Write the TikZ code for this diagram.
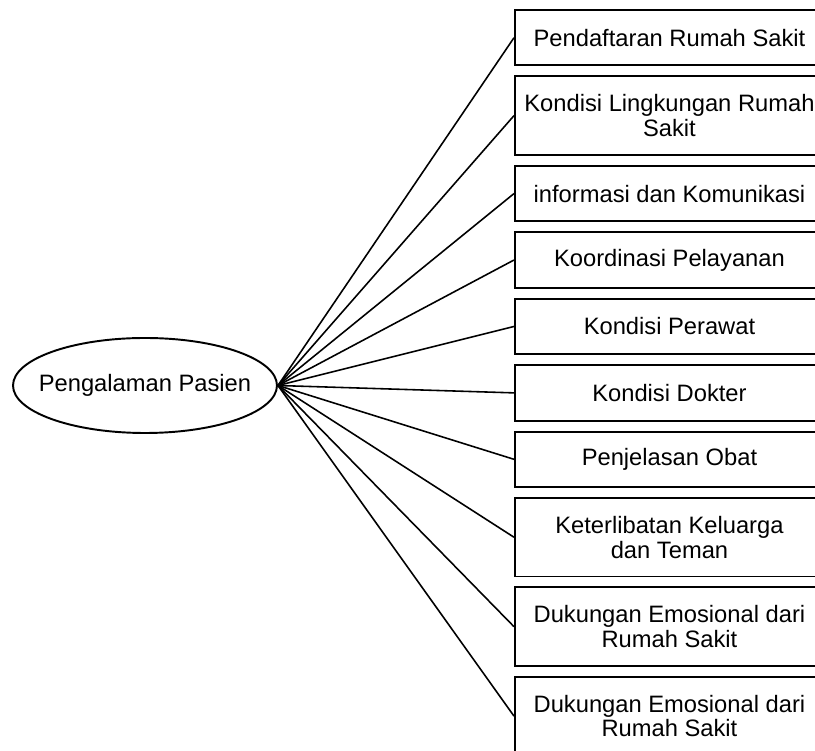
\documentclass[tikz,border=0pt]{standalone}
\usepackage{fontspec}
\setmainfont{Liberation Sans}
\usepackage{tikz}
\usetikzlibrary{shapes.geometric, positioning}

\tikzset{
  itembox/.style={draw, line width=1.1pt, rectangle, align=center, minimum width=6.18cm, minimum height=1.11cm, inner sep=2pt},
  itemboxtall/.style={itembox, minimum height=1.57cm},
  link/.style={line width=0.9pt}
}

\begin{document}
\begin{tikzpicture}[node distance=0.18cm, font=\fontsize{13.5}{14}\selectfont]
  \useasboundingbox (0,0) rectangle (16.3,-15.02);

  % Central ellipse
  \node (pasien) [draw, line width=1.1pt, ellipse, minimum width=5.28cm, minimum height=1.9cm, inner xsep=-0.4cm, inner ysep=0pt]
    at (2.9, -7.71) {Pengalaman Pasien};

  % Aspect boxes
  \node (daftar) [itembox, anchor=north west] at (10.28, -0.18) {Pendaftaran Rumah Sakit};
  \node (lingkungan) [itemboxtall, below=of daftar] {Kondisi Lingkungan Rumah\\Sakit};
  \node (informasi) [itembox, below=of lingkungan] {informasi dan Komunikasi};
  \node (koordinasi) [itembox, below=of informasi] {Koordinasi Pelayanan};
  \node (perawat) [itembox, below=of koordinasi] {Kondisi Perawat};
  \node (dokter) [itembox, below=of perawat] {Kondisi Dokter};
  \node (obat) [itembox, below=of dokter] {Penjelasan Obat};
  \node (keluarga) [itemboxtall, below=of obat] {Keterlibatan Keluarga\\dan Teman};
  \node (emosi) [itemboxtall, below=of keluarga] {Dukungan Emosional dari\\Rumah Sakit};
  \node (emosib) [itemboxtall, below=of emosi] {Dukungan Emosional dari\\Rumah Sakit};

  \foreach \target in {daftar, lingkungan, informasi, koordinasi, perawat, dokter, obat, keluarga, emosi, emosib}
    \draw[link] (pasien.east) -- (\target.west);

\end{tikzpicture}
\end{document}
